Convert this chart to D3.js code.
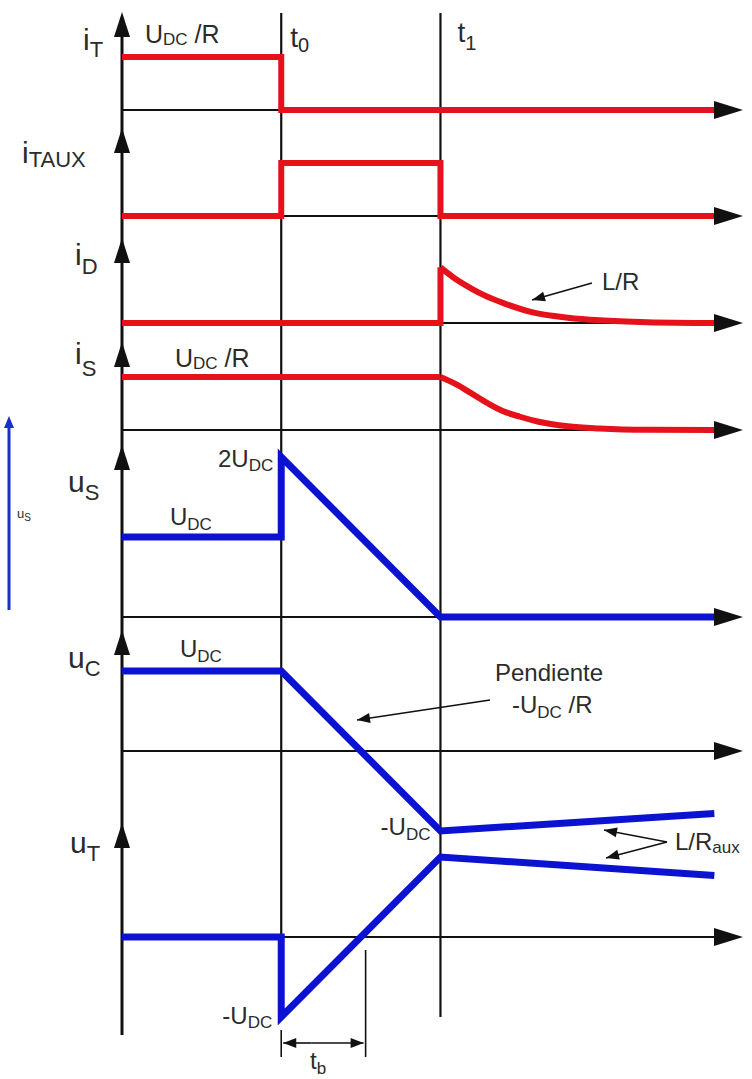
<!DOCTYPE html>
<html>
<head>
<meta charset="utf-8">
<script src="https://cdn.jsdelivr.net/npm/d3@7"></script>
<style>
  body { margin: 0; background: #fff; }
  svg text { font-family: "Liberation Sans", Arial, sans-serif; fill: #2b2b2b; }
</style>
</head>
<body>
<svg id="chart"></svg>
<script>
// time measured in switching instants: t0 = 1, t1 = 2
const t0 = 1, t1 = 2, tEnd = 3.72, tMax = 3.9, tb = 1.53;

// currents, per unit of UDC/R  -> [t, value]
const iT = [[0, 1], [1, 1], [1, 0], [3.72, 0]];
const iTAUX = [[0, 0], [1, 0], [1, 1], [2, 1], [2, 0], [3.72, 0]];
const iDstep = [[0, 0], [2, 0], [2, 1.05]];
const iDdecay = [[2, 1.05], [2.1, 0.82], [2.2, 0.64], [2.27, 0.53], [2.4, 0.37], [2.58, 0.2], [2.8, 0.1], [3.0, 0.05], [3.3, 0.015], [3.72, 0]];
const iSstep = [[0, 1], [2, 1]];
const iSdecay = [[2, 1], [2.1, 0.86], [2.19, 0.7], [2.3, 0.5], [2.39, 0.36], [2.5, 0.25], [2.61, 0.16], [2.8, 0.07], [3.0, 0.03], [3.3, 0.005], [3.72, 0]];

// voltages, per unit of UDC
const uS = [[0, 1], [1, 1], [1, 2], [2, 0], [3.72, 0]];
const uC = [[0, 1], [1, 1], [2, -1], [3.72, -0.78]];
const uT = [[0, 0], [1, 0], [1, -1], [2, 1], [3.72, 0.77]];

const width = 752, height = 1079;
const red = "#e6121b", blue = "#0c12d2", ink = "#111";

const svg = d3.select("#chart")
    .attr("width", width)
    .attr("height", height);

const x = d3.scaleLinear().domain([0, tMax]).range([122, 743]);

// one y scale per trace, baseline pixel + pixels per unit
function yScale(base, unit) {
    return d3.scaleLinear().domain([0, 1]).range([base, base - unit]);
}
const yIT = yScale(110, 53), yITAUX = yScale(216, 53), yID = yScale(323, 53), yIS = yScale(430, 53);
const yUS = yScale(617, 80), yUC = yScale(751, 80), yUT = yScale(937, 80);
const baselines = [yIT, yITAUX, yID, yIS, yUS, yUC, yUT];
const axisTips = [12, 128, 238, 342, 445, 630, 823];

// horizontal time axes
baselines.forEach(y => {
    svg.append("line")
        .attr("x1", x(0)).attr("x2", x(tMax) - 20)
        .attr("y1", y(0)).attr("y2", y(0))
        .attr("stroke", ink).attr("stroke-width", 2.2);
});

// t0 / t1 markers
svg.append("line").attr("x1", x(t0)).attr("x2", x(t0)).attr("y1", 13).attr("y2", 1018)
    .attr("stroke", ink).attr("stroke-width", 2.2);
svg.append("line").attr("x1", x(t1)).attr("x2", x(t1)).attr("y1", 13).attr("y2", 1017)
    .attr("stroke", ink).attr("stroke-width", 2.2);

// main vertical axis
svg.append("line").attr("x1", x(0)).attr("x2", x(0)).attr("y1", 20).attr("y2", 1035)
    .attr("stroke", ink).attr("stroke-width", 3);

function trace(data, y, color, w, curve) {
    const gen = d3.line().x(d => x(d[0])).y(d => y(d[1])).curve(curve || d3.curveLinear);
    svg.append("path")
        .attr("d", gen(data))
        .attr("fill", "none")
        .attr("stroke", color)
        .attr("stroke-width", w)
        .attr("stroke-linejoin", "miter")
        .attr("stroke-linecap", "butt");
}

trace(iT, yIT, red, 6);
trace(iTAUX, yITAUX, red, 6);
trace(iDstep, yID, red, 6);
trace(iDdecay, yID, red, 6, d3.curveMonotoneX);
trace(iSstep, yIS, red, 6);
trace(iSdecay, yIS, red, 6, d3.curveMonotoneX);
trace(uS, yUS, blue, 7);
trace(uC, yUC, blue, 7);
trace(uT, yUT, blue, 7);

// arrow heads on the time axes
baselines.forEach(y => {
    const tip = x(tMax), yy = y(0);
    svg.append("path")
        .attr("d", `M${tip},${yy} L${tip - 29},${yy - 9} L${tip - 29},${yy + 9} Z`)
        .attr("fill", ink);
});
// arrow heads on the vertical axis
axisTips.forEach(t => {
    const cx = x(0);
    svg.append("path")
        .attr("d", `M${cx},${t} L${cx - 8},${t + 25} L${cx + 8},${t + 25} Z`)
        .attr("fill", ink);
});

// text with sub/superscript parts: [text, size, dy]
function rich(px, py, parts, anchor, size) {
    const t = svg.append("text")
        .attr("x", px).attr("y", py)
        .attr("text-anchor", anchor || "start")
        .style("font-size", (size || 24) + "px");
    let shift = 0;
    parts.forEach(p => {
        const dy = (p[2] || 0) - shift;
        shift = p[2] || 0;
        t.append("tspan").text(p[0])
            .attr("dy", dy)
            .style("font-size", p[1] + "px");
    });
    return t;
}

// trace names
rich(83, 50, [["i", 30], ["T", 22, 7]]);
rich(22, 163, [["i", 30], ["TAUX", 22, 4]]);
rich(75, 265, [["i", 30], ["D", 22, 9]]);
rich(75, 364, [["i", 30], ["S", 22, 12]]);
rich(68, 492, [["u", 30], ["S", 22, 8]]);
rich(68, 668, [["u", 30], ["C", 22, 8]]);
rich(70, 853, [["u", 30], ["T", 22, 8]]);

// instants
rich(x(t0) + 9, 47, [["t", 28], ["0", 20, 5]]);
rich(x(t1) + 17, 42, [["t", 28], ["1", 20, 8]]);

// level annotations
rich(145, 43, [["U", 25], ["DC", 17, 2], [" /R", 25]]);
rich(175, 367, [["U", 25], ["DC", 17, 2], [" /R", 25]]);
rich(x(t0) - 8, 467, [["2U", 24], ["DC", 17, 4]], "end");
rich(170, 525, [["U", 24], ["DC", 17, 5]]);
rich(180, 657, [["U", 24], ["DC", 17, 5]]);
rich(495, 681, [["Pendiente", 24]]);
rich(512, 713, [["-U", 24], ["DC", 17, 5], [" /R", 24]]);
rich(x(t1) - 10, 835, [["-U", 24], ["DC", 17, 5]], "end");
rich(x(t0) - 9, 1024, [["-U", 24], ["DC", 17, 4]], "end");
rich(602, 290, [["L/R", 24]]);
rich(675, 850, [["L/R", 24], ["aux", 17, 3]]);
rich(310, 1069, [["t", 24], ["b", 17, 5]]);

// thin pointer arrows
function pointer(x1, y1, x2, y2) {
    svg.append("line").attr("x1", x1).attr("y1", y1).attr("x2", x2).attr("y2", y2)
        .attr("stroke", ink).attr("stroke-width", 1.6);
    const a = Math.atan2(y2 - y1, x2 - x1), L = 13, W = 5;
    const bx = x2 - L * Math.cos(a), by = y2 - L * Math.sin(a);
    const nx = -Math.sin(a) * W, ny = Math.cos(a) * W;
    svg.append("path")
        .attr("d", `M${x2},${y2} L${bx + nx},${by + ny} L${bx - nx},${by - ny} Z`)
        .attr("fill", ink);
}
pointer(592, 283, 532, 300);
pointer(490, 700, 357, 720);
pointer(667, 842, 604, 830);
pointer(667, 842, 606, 858);

// tb interval
svg.append("line").attr("x1", x(t0)).attr("x2", x(t0)).attr("y1", 1030).attr("y2", 1057)
    .attr("stroke", ink).attr("stroke-width", 1.6);
svg.append("line").attr("x1", x(tb)).attr("x2", x(tb)).attr("y1", 950).attr("y2", 1057)
    .attr("stroke", ink).attr("stroke-width", 1.6);
pointer(x(t0) + 30, 1043, x(t0) + 2, 1043);
pointer(x(t0) + 30, 1043, x(tb) - 2, 1043);

// small uS reference arrow on the left
svg.append("line").attr("x1", 9).attr("x2", 9).attr("y1", 610).attr("y2", 424)
    .attr("stroke", "#1a2fc8").attr("stroke-width", 3);
svg.append("path").attr("d", "M9,416 L4,428 L14,428 Z").attr("fill", "#1a2fc8");
rich(17, 518, [["u", 13], ["S", 10, 3]]);
</script>
</body>
</html>
